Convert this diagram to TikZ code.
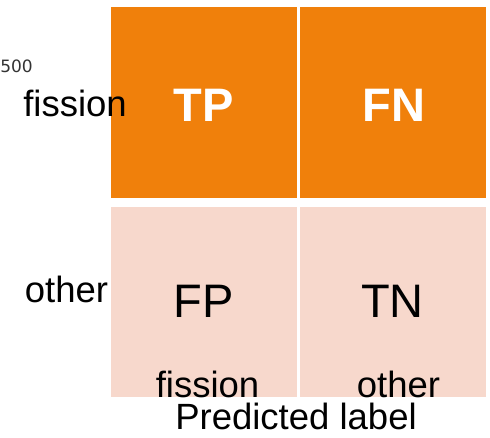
\documentclass[tikz,border=0pt]{standalone}
\usepackage{fontspec}
\setmainfont{Liberation Sans}
\newfontfamily\tickfont{DejaVu Sans}
\definecolor{hiorange}{HTML}{F0800B}
\definecolor{loorange}{HTML}{F7D8CC}
\definecolor{tickgray}{HTML}{333333}
\tikzset{
  cellbox/.style={inner sep=0pt, outer sep=0pt, draw=none},
  bigtxt/.style={inner sep=0pt, font=\fontsize{47}{50}\selectfont},
  labtxt/.style={inner sep=0pt, anchor=base, font=\fontsize{36.5}{40}\selectfont},
}
\begin{document}
\begin{tikzpicture}[x=1pt,y=1pt]
\useasboundingbox (0,0) rectangle (490,438);
% cells (y flipped: 438 - y)
\fill[hiorange] (111,438-7) rectangle (297.3,438-198.3);
\fill[hiorange] (300,438-7) rectangle (486,438-198.3);
\fill[loorange] (111,438-206.7) rectangle (297.3,438-397.5);
\fill[loorange] (300,438-206.7) rectangle (486,438-397.5);
\coordinate (tl) at (204,438-105.5);
\coordinate (tr) at (394,438-105.5);
\coordinate (bl) at (204,438-301);
\coordinate (br) at (392.5,438-301);
\node[bigtxt, text=white, font=\fontsize{47}{50}\selectfont\bfseries] (tp) at (tl) {TP};
\node[bigtxt, text=white, font=\fontsize{47}{50}\selectfont\bfseries] (fn) at (tr) {FN};
\node[bigtxt] (fp) at (bl) {FP};
\node[bigtxt] (tn) at (br) {TN};
% tick label fragment
\node[inner sep=0pt, anchor=base east, text=tickgray, font=\tickfont\fontsize{17}{19}\selectfont] (tick) at (33,438-73) {500};
% axis labels
\node[labtxt] (yfis) at (75,438-117) {fission};
\node[labtxt] (yoth) at (66.5,438-302.5) {other};
\node[labtxt] (xfis) at (207.5,438-398) {fission};
\node[labtxt] (xoth) at (398.5,438-398) {other};
\node[labtxt] (xlab) at (296,438-430) {Predicted label};
\end{tikzpicture}
\end{document}
